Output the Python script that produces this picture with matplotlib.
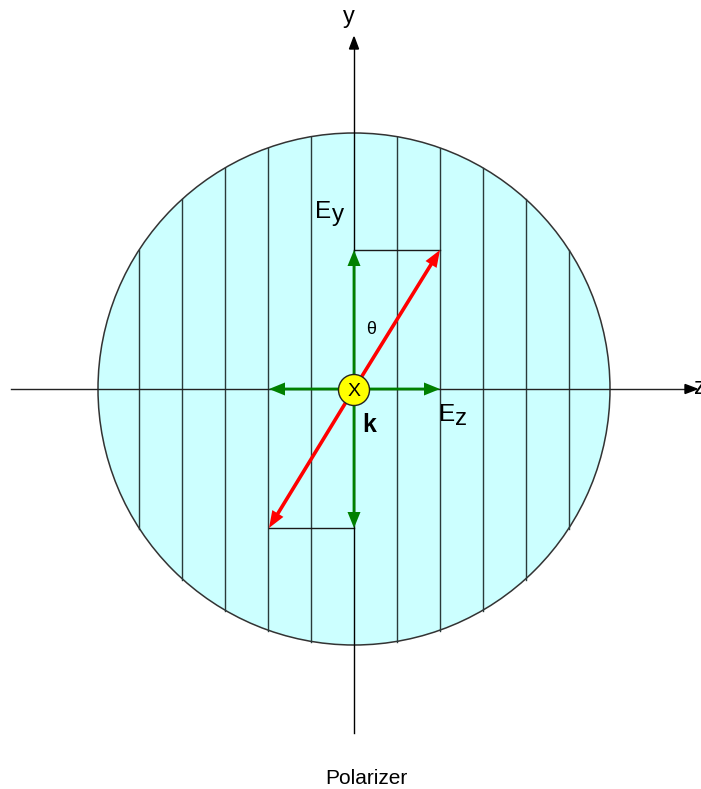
import numpy as np
import matplotlib
matplotlib.use("Agg")
import matplotlib.pyplot as plt
from matplotlib.patches import Circle

plt.rcParams['font.family'] = ['Liberation Sans', 'DejaVu Sans']

# Geometry of the drawing, in pixels of the original picture
center = (354, 389)
disc_radius = 256
grid_x = [139, 182, 225, 268, 311, 397, 440, 483, 526, 569]
axis_z = (11, 697)          # horizontal axis start / tip
axis_y = (733, 37)          # vertical axis bottom / tip

# Field components (arrow tips)
ey_tips = [(354, 250), (354, 528)]
ez_tips = [(440, 389), (269, 389)]
e_tips = [(440, 250), (269, 528)]

# Construction lines of the projection box
box_lines = [((354, 440), (250, 250)), ((269, 354), (528, 528))]

fig = plt.figure(figsize=(7.01, 7.89), dpi=100)
ax = fig.add_axes([0, 0, 1, 1])
ax.set_xlim(0, 701)
ax.set_ylim(789, 0)
ax.axis('off')

cx, cy = center

# polarizer disc
ax.add_patch(Circle(center, disc_radius, facecolor='#ccffff', edgecolor='#333333', lw=1.1, zorder=1))

# vertical transmission lines
for gx in grid_x:
    h = np.sqrt(disc_radius**2 - (gx - cx)**2)
    ax.plot([gx, gx], [cy - h, cy + h + 1], color='#2a3a3a', lw=1.0, zorder=2)

for xs, ys in box_lines:
    ax.plot(xs, ys, color='#1a1a1a', lw=1.0, zorder=2)

# coordinate axes
ax.plot([axis_z[0], axis_z[1] - 10], [cy, cy], color='#222222', lw=1.0, zorder=3)
ax.arrow(axis_z[1] - 12, cy, 12, 0, width=0.1, head_width=9, head_length=12,
         length_includes_head=True, color='black', zorder=3)
ax.plot([cx, cx], [axis_y[0], axis_y[1] + 10], color='black', lw=1.0, zorder=3)
ax.arrow(cx, axis_y[1] + 12, 0, -12, width=0.1, head_width=9, head_length=12,
         length_includes_head=True, color='black', zorder=3)

# green component arrows
for tx, ty in ey_tips + ez_tips:
    ax.arrow(cx, cy, tx - cx, ty - cy, width=2.8, head_width=13, head_length=16,
             length_includes_head=True, color='#008000', lw=0, zorder=4)

# red field arrow (double headed)
for tx, ty in e_tips:
    ax.arrow(cx, cy, tx - cx, ty - cy, width=3.6, head_width=13, head_length=17,
             length_includes_head=True, color='#ff0000', lw=0, zorder=5)

# propagation direction (into the page)
ax.add_patch(Circle((cx, cy + 1), 15.5, facecolor='#ffff00', edgecolor='#222222', lw=1.0, zorder=6))
ax.text(cx, cy + 2, 'X', fontsize=14, ha='center', va='center', zorder=7)

# labels
ax.text(349, 23, 'y', fontsize=17, ha='center', va='baseline')
ax.text(694, 394, 'z', fontsize=17, ha='left', va='baseline')
ax.text(315, 218, 'E', fontsize=17.5, ha='left', va='baseline')
ax.text(332, 221, 'y', fontsize=17.5, ha='left', va='baseline')
ax.text(439, 421, 'E', fontsize=17.5, ha='left', va='baseline')
ax.text(455, 425, 'z', fontsize=17.5, ha='left', va='baseline')
ax.text(362, 432, 'k', fontsize=18, fontweight='bold', ha='left', va='baseline')
ax.text(371, 334, 'θ', fontsize=13, ha='center', va='baseline')
ax.text(366, 784, 'Polarizer', fontsize=15, ha='center', va='baseline')

fig.savefig('out.png', dpi=100)
